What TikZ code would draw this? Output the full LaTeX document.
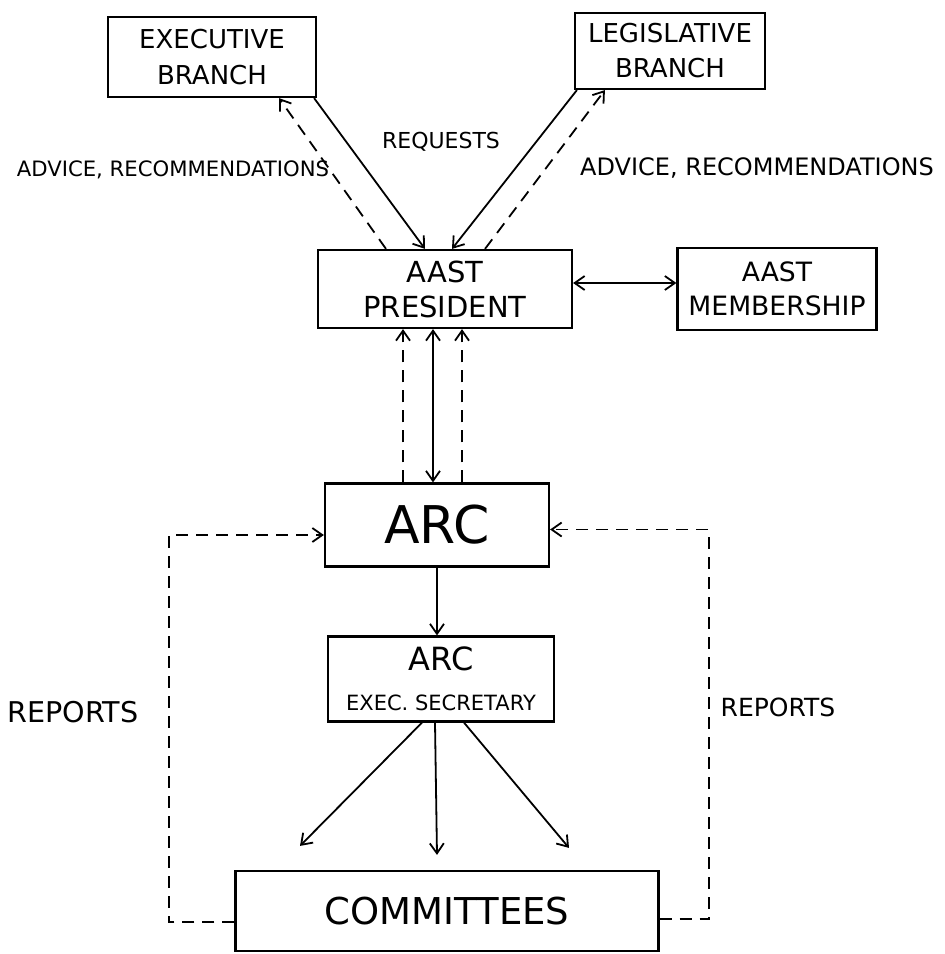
\documentclass[tikz,border=0pt]{standalone}
\usepackage{fontspec}
\setmainfont{DejaVu Sans}
\usetikzlibrary{arrows.meta,positioning}
\tikzstyle{box}=[draw,
                 line width=1.1pt,
                 inner sep=0pt,
                 align=center]
\tikzstyle{req}=[line width=0.9pt]
\tikzstyle{adv}=[line width=0.9pt,dash pattern=on 6pt off 4pt]
\tikzstyle{lbl}=[inner sep=0pt]
\newcommand{\fsz}[2]{\fontsize{#1}{#2}\selectfont}

\begin{document}
\begin{tikzpicture}[x=0.5pt,y=-0.5pt,>={Straight Barb[length=5pt,width=7pt]}]
    \useasboundingbox (0,0) rectangle (945,954);
    \node[box, minimum width=127pt, minimum height=39pt, font=\fsz{14.5}{17.5}] (pres) at (445,289) {AAST\\PRESIDENT};
    \node[box, minimum width=99.5pt, minimum height=41pt, font=\fsz{13.3}{17}, node distance=166pt, right of=pres] (memb) {AAST\\MEMBERSHIP};
    \node[box, minimum width=104pt, minimum height=40pt, font=\fsz{13}{18}] (exec) at (212,57) {EXECUTIVE\\BRANCH};
    \node[box, minimum width=95pt, minimum height=38pt, font=\fsz{13}{17.5}] (legis) at (670,51) {LEGISLATIVE\\BRANCH};
    \node[box, minimum width=112pt, minimum height=41.5pt, font=\fsz{26}{30}, node distance=118pt, below of=pres, xshift=-4pt] (arc) {ARC};
    \node[box, minimum width=113pt, minimum height=42.5pt, font=\fsz{16}{19}, node distance=77pt, below of=arc, xshift=2pt] (sec) {ARC\\[1pt]\fsz{10.5}{13}EXEC. SECRETARY};
    \node[box, minimum width=211.5pt, minimum height=40pt, font=\fsz{18.5}{22}, node distance=116pt, below of=sec, xshift=3pt] (comm) {COMMITTEES};

    \node[lbl, font=\fsz{11}{13}] (reqlbl) at (441,142) {REQUESTS};
    \node[lbl, font=\fsz{10.6}{13}] (advleft) at (173,170) {ADVICE, RECOMMENDATIONS};
    \node[lbl, font=\fsz{12}{14}] (advright) at (757,168) {ADVICE, RECOMMENDATIONS};
    \node[lbl, font=\fsz{14.3}{17}] (repleft) at (73,712) {REPORTS};
    \node[lbl, font=\fsz{12.5}{15}] (repright) at (778,707) {REPORTS};

    % branches and president
    \draw[req,->] ([xshift=-1.5pt]exec.south east) -- ([xshift=-10pt]pres.north);
    \draw[adv,->] ([xshift=-29.5pt]pres.north) -- ([xshift=33.5pt]exec.south);
    \draw[req,->] ([xshift=1.5pt]legis.south west) -- ([xshift=3.5pt]pres.north);
    \draw[adv,->] ([xshift=20pt]pres.north) -- ([xshift=15.5pt]legis.south west);
    \draw[req,<->] ([yshift=3pt]pres.east) -- ([yshift=3pt]memb.west);

    % president and ARC
    \draw[adv,->] ([xshift=-17pt]arc.north) -- ([xshift=-17pt]arc.north |- pres.south);
    \draw[req,<->] ([xshift=-2pt]arc.north) -- ([xshift=-2pt]arc.north |- pres.south);
    \draw[adv,->] ([xshift=12.5pt]arc.north) -- ([xshift=12.5pt]arc.north |- pres.south);
    \draw[req,->] (arc.south) -- (arc.south |- sec.north);

    % committees
    \draw[req,->] ([xshift=-9.5pt]sec.south) -- ([xshift=-73.5pt,yshift=12pt]comm.north);
    \draw[req,->] ([xshift=-3pt]sec.south) -- ([xshift=-5pt,yshift=7.5pt]comm.north);
    \draw[req,->] ([xshift=11.5pt]sec.south) -- ([xshift=61pt,yshift=11pt]comm.north);
    \draw[adv,->] ([yshift=-5.5pt]comm.west) -| ([xshift=-77.5pt,yshift=-5pt]arc.west) -- ([yshift=-5pt]arc.west);
    \draw[adv,->] ([yshift=-4pt]comm.east) -| ([xshift=79.5pt,yshift=-2.25pt]arc.east) -- ([yshift=-2.25pt]arc.east);
\end{tikzpicture}
\end{document}
